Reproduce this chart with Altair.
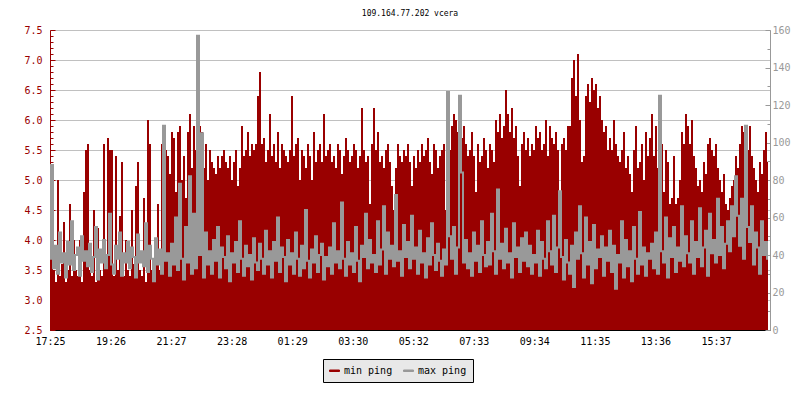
import altair as alt
import pandas as pd

TITLE = "109.164.77.202 vcera"
SERIES = ["min ping", "max ping"]
COLORS = ["#990000", "#999999"]
X_TICK_LABELS = ["17:25", "19:26", "21:27", "23:28", "01:29", "03:30",
                 "05:32", "07:33", "09:34", "11:35", "13:36", "15:37"]
SPAN_MIN = 1440          # 24 h of samples
STEP_MIN = 4             # one sample every 4 minutes
TICK_STEP = 121.08       # minutes between x labels

# min ping (left axis, ms)
min_ping = [
    3.4, 4.1, 3.5, 3.3, 5.0, 3.4, 3.6, 4.3, 3.3, 3.5, 4.6, 3.4, 4.0, 3.5, 3.4, 4.0, 3.3, 4.8, 5.5, 5.6,
    3.5, 3.4, 4.5, 3.3, 4.2, 3.5, 3.4, 5.6, 3.6, 5.7, 5.5, 5.5, 3.4, 5.4, 3.5, 4.4, 5.3, 3.4, 4.0, 3.5,
    3.4, 4.5, 3.6, 4.9, 5.3, 3.5, 3.4, 4.7, 3.3, 6.0, 5.6, 3.5, 3.4, 3.6, 4.6, 3.5, 5.6, 5.5, 5.5, 5.4,
    5.1, 5.8, 5.7, 4.8, 5.8, 5.9, 5.0, 5.4, 4.7, 5.8, 6.1, 5.2, 5.9, 5.5, 5.3, 5.9, 5.8, 5.2, 5.6, 5.0,
    5.5, 5.3, 5.2, 5.1, 5.4, 5.2, 5.4, 5.5, 5.3, 5.2, 5.4, 5.0, 5.3, 5.5, 4.9, 5.2, 5.9, 5.4, 5.5, 5.8,
    5.4, 5.6, 5.5, 5.6, 6.4, 6.8, 5.6, 5.7, 5.3, 5.5, 6.1, 5.4, 5.6, 5.3, 5.8, 5.2, 5.6, 5.5, 5.4, 5.3,
    5.5, 6.4, 5.4, 5.6, 5.7, 5.0, 5.5, 5.4, 5.2, 5.6, 5.4, 5.0, 5.8, 5.3, 5.5, 5.6, 5.3, 6.1, 5.4, 5.5,
    5.6, 5.3, 5.4, 5.2, 5.6, 5.5, 5.1, 5.4, 5.7, 5.5, 5.3, 5.4, 5.6, 5.5, 5.2, 5.4, 6.2, 5.5, 5.3, 5.4,
    4.6, 5.6, 6.2, 5.5, 5.8, 5.3, 5.4, 5.2, 5.5, 5.6, 5.3, 4.9, 4.5, 5.2, 5.6, 5.4, 5.3, 5.5, 5.4, 5.6,
    5.3, 4.9, 5.4, 5.2, 5.5, 5.3, 5.6, 5.4, 5.5, 5.7, 5.3, 5.1, 5.6, 5.5, 5.2, 5.4, 5.5, 5.6, 4.5, 5.0,
    5.5, 5.9, 6.1, 6.0, 5.8, 5.5, 5.7, 5.9, 5.6, 5.4, 5.5, 5.8, 5.4, 4.8, 5.6, 5.3, 5.4, 5.7, 5.5, 5.2,
    5.6, 5.5, 5.3, 6.0, 5.8, 6.1, 5.7, 5.9, 6.5, 6.1, 5.8, 6.2, 5.7, 5.9, 5.4, 4.9, 5.6, 5.8, 5.5, 5.7,
    5.4, 5.6, 5.5, 5.9, 5.7, 5.8, 5.5, 5.6, 6.0, 5.4, 5.9, 5.7, 5.6, 5.8, 5.5, 4.6, 5.6, 5.7, 5.5, 5.9,
    5.9, 6.7, 7.0, 6.4, 7.1, 6.0, 5.3, 5.4, 6.4, 6.6, 6.3, 6.7, 6.5, 6.6, 6.2, 6.4, 6.0, 5.8, 5.9, 5.5,
    5.7, 5.5, 6.0, 5.6, 5.4, 5.3, 5.5, 5.8, 5.2, 5.4, 5.1, 4.8, 5.5, 5.9, 5.2, 5.3, 5.6, 5.0, 5.8, 5.4,
    5.7, 6.1, 5.4, 5.9, 5.2, 5.0, 5.6, 4.8, 5.5, 5.3, 4.6, 4.7, 5.4, 4.6, 4.7, 5.0, 5.8, 5.6, 6.1, 5.9,
    5.6, 6.0, 5.4, 5.2, 4.9, 5.0, 4.8, 5.3, 5.1, 5.6, 5.7, 5.5, 5.4, 5.6, 5.2, 5.0, 4.8, 5.1, 4.6, 4.5,
    4.7, 4.9, 5.0, 5.4, 5.2, 5.6, 5.9, 5.8, 5.3, 5.5, 5.9, 5.4, 5.2, 5.0, 4.8, 5.3, 5.1, 5.5, 5.8, 5.3,
]

# max ping (right axis, ms)
max_ping = [
    38, 88, 33, 45, 30, 52, 36, 41, 28, 47, 35, 58, 32, 40, 44, 29, 50, 37, 42, 34,
    46, 31, 39, 55, 27, 43, 36, 48, 33, 40, 62, 35, 30, 45, 38, 52, 29, 41, 36, 47,
    33, 44, 39, 28, 51, 36, 42, 34, 57, 31, 45, 38, 26, 49, 35, 43, 30, 109, 37, 41,
    29, 46, 35, 60, 32, 78, 38, 27, 55, 36, 82, 30, 62, 33, 157, 40, 105, 28, 52, 35,
    42, 30, 48, 37, 55, 28, 44, 39, 33, 50, 26, 41, 36, 47, 31, 58, 38, 29, 45, 34,
    40, 27, 49, 36, 32, 46, 38, 30, 53, 35, 42, 28, 47, 37, 60, 31, 44, 39, 26, 48,
    35, 41, 30, 52, 38, 29, 45, 33, 64, 37, 28, 43, 36, 50, 31, 40, 46, 27, 39, 34,
    44, 30, 57, 36, 42, 33, 68, 38, 29, 47, 35, 41, 31, 55, 37, 26, 45, 39, 62, 33,
    48, 36, 40, 31, 58, 35, 43, 66, 30, 52, 38, 45, 34, 72, 37, 42, 29, 56, 39, 47,
    33, 61, 38, 44, 30, 53, 36, 41, 28, 49, 35, 57, 40, 32, 46, 37, 29, 43, 35, 127,
    50, 38, 55, 30, 44, 125, 84, 36, 48, 33, 41, 29, 52, 37, 45, 31, 58, 40, 34, 47,
    35, 62, 42, 30, 75, 38, 46, 33, 54, 36, 41, 28, 57, 39, 44, 31, 49, 37, 52, 34,
    45, 30, 40, 36, 53, 29, 47, 38, 33, 58, 42, 35, 61, 31, 44, 74, 39, 27, 48, 36,
    30, 45, 23, 52, 38, 66, 41, 28, 60, 35, 47, 25, 56, 33, 43, 39, 50, 29, 44, 37,
    53, 31, 45, 22, 40, 36, 58, 28, 48, 34, 42, 26, 55, 38, 30, 63, 35, 44, 29, 41,
    38, 46, 33, 52, 30, 125, 42, 36, 60, 28, 49, 39, 55, 31, 44, 37, 66, 34, 50, 41,
    36, 58, 30, 47, 39, 65, 34, 44, 53, 29, 62, 41, 48, 36, 70, 40, 55, 33, 46, 58,
    42, 66, 50, 82, 61, 45, 70, 38, 109, 55, 47, 66, 35, 52, 44, 30, 58, 40, 47, 38,
]

minutes = [i * STEP_MIN for i in range(len(min_ping))]
df = pd.DataFrame({"t": minutes, "min_ping": min_ping, "max_ping": max_ping})

FONT = "DejaVu Sans Mono"
RED, GREY = COLORS

x_ticks = [round(k * TICK_STEP, 3) for k in range(len(X_TICK_LABELS))]
label_arr = "[" + ",".join("'%s'" % s for s in X_TICK_LABELS) + "]"

x_enc = alt.X(
    "t:Q",
    scale=alt.Scale(domain=[0, SPAN_MIN], nice=False, zero=False),
    axis=alt.Axis(
        values=x_ticks,
        labelExpr=f"{label_arr}[round(datum.value/{TICK_STEP})]",
        title=None, grid=False, domainColor="#000000", tickColor="#000000",
        labelColor="#000000", labelFont=FONT, labelFontSize=10,
        tickSize={"condition": {"test": "true", "value": -5}, "value": -5},
        labelPadding=11, labelOverlap=False, labelFlush=False,
    ),
)

left_vals = [round(2.5 + 0.1 * k, 1) for k in range(51)]
major_left = "abs(datum.value*2 - round(datum.value*2)) < 0.01"
right_vals = list(range(0, 161, 10))
major_right = "datum.value % 20 === 0"

area = alt.Chart(df).mark_area(interpolate="step", color=RED).encode(
    x=x_enc,
    y=alt.Y(
        "min_ping:Q",
        scale=alt.Scale(domain=[2.5, 7.5], nice=False, zero=False),
        axis=alt.Axis(
            orient="left", values=left_vals, title=None,
            labelExpr=f"{major_left} ? format(datum.value, '.1f') : ''",
            labelColor=RED, tickColor=RED, domainColor=RED,
            labelFont=FONT, labelFontSize=10, labelOverlap=False,
            tickSize={"condition": {"test": major_left, "value": -5}, "value": -3},
            labelPadding=13,
            grid=True, gridColor="#c0c0c0",
            gridOpacity={"condition": {"test": major_left, "value": 1}, "value": 0},
        ),
    ),
    y2=alt.datum(2.5),
    color=alt.datum(SERIES[0]),
)

line = alt.Chart(df).mark_line(interpolate="step", strokeWidth=2).encode(
    x=x_enc,
    y=alt.Y(
        "max_ping:Q",
        scale=alt.Scale(domain=[0, 160], nice=False, zero=True),
        axis=alt.Axis(
            orient="right", values=right_vals, title=None,
            labelExpr=f"{major_right} ? format(datum.value, 'd') : ''",
            labelColor=GREY, tickColor=GREY, domainColor=GREY,
            labelFont=FONT, labelFontSize=10, labelOverlap=False,
            tickSize={"condition": {"test": major_right, "value": -5}, "value": -3},
            labelPadding=7, grid=False,
        ),
    ),
    color=alt.datum(SERIES[1]),
)

legend = alt.Legend(
    title=None, orient="none", legendX=273, legendY=329, direction="horizontal",
    fillColor="#e8e8e8", strokeColor="#000000", padding=6,
    symbolType="M-1,-0.15L1,-0.15L1,0.15L-1,0.15Z", symbolSize=100,
    symbolStrokeWidth=1, labelFont=FONT, labelFontSize=10, labelColor="#000000",
    columnPadding=8, labelOffset=4,
)

chart = (
    alt.layer(area, line)
    .encode(color=alt.Color(scale=alt.Scale(domain=SERIES, range=COLORS), legend=legend))
    .resolve_scale(y="independent")
    .properties(
        width=720, height=300,
        title=alt.Title(TITLE, font=FONT, fontSize=8, fontWeight="normal",
                        color="#000000", anchor="middle", offset=7),
        autosize=alt.AutoSizeParams(type="none"),
        padding={"left": 42, "top": 22, "right": 22, "bottom": 62},
    )
    .configure_view(stroke=None)
    .configure(background="#ffffff")
)

chart.save("out.html", embed_options={"renderer": "svg", "actions": False})
